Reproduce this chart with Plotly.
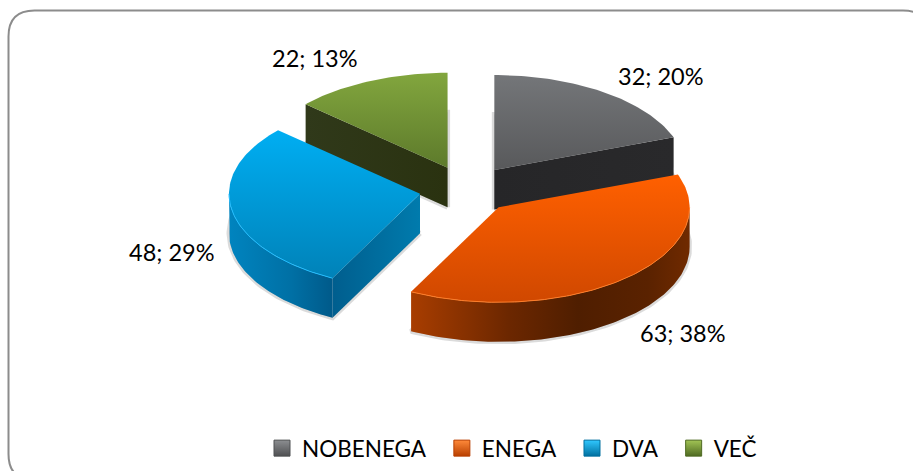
import math
import plotly.graph_objects as go

CATEGORIES = ["NOBENEGA", "ENEGA", "DVA", "VEČ"]
VALUES = [32, 63, 48, 22]
PERCENTS = [20, 38, 29, 13]

TOP_COLORS = [("#747679", "#58595b"), ("#ff6000", "#d04800"), ("#00aef2", "#0082b8"), ("#82a63e", "#5d7a2b")]
RIM_SCALES = [None,
              [[0, "#a83d00"], [0.35, "#6c2700"], [0.6, "#4f1e00"], [0.85, "#5a2200"], [1, "#702a00"]],
              [[0, "#0084bf"], [0.6, "#0070a5"], [1, "#005a8a"]],
              None]
WALL_SCALES = [[[0, "#262628"], [1, "#29292b"]], None,
               [[0, "#005e8e"], [1, "#007bad"]],
               [[0, "#30391a"], [1, "#2a3210"]]]
WALL_EDGE = ["end", None, "start", "start"]
RIM_LINE = [None, "#ff7d28", "#22bdff", None]
LEGEND_COLORS = [("#8c8e91", "#4f5052"), ("#ff8a3a", "#b83f00"), ("#30c8ff", "#006f9f"), ("#a2c455", "#4f6a22")]
LABEL_CENTERS = [(660.5, 75.5), (683, 332.5), (172, 251.5), (315, 57.5)]

CX, CY, RX, RY, DEPTH, PULL = 467.0, 189.5, 191.0, 95.0, 39.5, 0.25
FONT = "Lato"
LABEL_SIZE = 23.5
LEGEND_SIZE = 22.5


def pt(c, a, dy=0.0):
    r = math.radians(a)
    return c[0] + RX * math.sin(r), c[1] - RY * math.cos(r) + dy


def arc(c, a0, a1, dy=0.0):
    n = max(2, int(abs(a1 - a0)) + 1)
    return [pt(c, a0 + (a1 - a0) * i / (n - 1), dy) for i in range(n)]


def add_poly(fig, poly, name, gradient=None, kind="vertical", line=None, fillcolor=None):
    xs = [p[0] for p in poly] + [poly[0][0]]
    ys = [p[1] for p in poly] + [poly[0][1]]
    kw = dict(x=xs, y=ys, mode="lines", fill="toself", name=name, showlegend=False, hoverinfo="skip")
    kw["line"] = line or dict(width=0, color="rgba(0,0,0,0)")
    if gradient:
        kw["fillgradient"] = dict(type=kind, colorscale=gradient)
    else:
        kw["fillcolor"] = fillcolor
    fig.add_trace(go.Scatter(**kw))


total = sum(VALUES)
slices = []
start = 0.0
for v in VALUES:
    sweep = 360.0 * v / total
    slices.append((start, start + sweep))
    start += sweep

fig = go.Figure()

for i in [0, 3, 2, 1]:
    a0, a1 = slices[i]
    mid = math.radians((a0 + a1) / 2)
    c = (CX + PULL * RX * math.sin(mid), CY - PULL * RY * math.cos(mid))
    name = CATEGORIES[i]
    # soft shadow around the base of the extruded slice
    base = [(c[0], c[1] + DEPTH)] + arc(c, a0, a1, DEPTH)
    add_poly(fig, base, name + " shadow", line=dict(width=5, color="rgba(90,90,90,0.22)"), fillcolor="rgba(90,90,90,0.22)")
    # flat cut wall
    if WALL_EDGE[i]:
        a = a1 if WALL_EDGE[i] == "end" else a0
        rim = pt(c, a)
        wall = [c, rim, (rim[0], rim[1] + DEPTH), (c[0], c[1] + DEPTH)]
        add_poly(fig, wall, name + " wall", WALL_SCALES[i], "horizontal")
    # outer rim
    r0, r1 = max(a0, 90), min(a1, 270)
    if r1 > r0 and RIM_SCALES[i]:
        rim_poly = arc(c, r0, r1) + arc(c, r1, r0, DEPTH)
        add_poly(fig, rim_poly, name + " rim", RIM_SCALES[i], "horizontal")
    # top face
    top = [c] + arc(c, a0, a1)
    add_poly(fig, top, name + " top", [[0, TOP_COLORS[i][1]], [1, TOP_COLORS[i][0]]], "vertical")
    if RIM_LINE[i]:
        edge = arc(c, r0, r1)
        fig.add_trace(go.Scatter(x=[p[0] for p in edge], y=[p[1] for p in edge], mode="lines",
                                 line=dict(width=1, color=RIM_LINE[i]), showlegend=False, hoverinfo="skip"))

for i, cat in enumerate(CATEGORIES):
    fig.add_trace(go.Scatter(
        x=[None], y=[None], mode="markers", name=cat + "\u00a0\u00a0", hoverinfo="skip",
        marker=dict(symbol="square", size=16, color=LEGEND_COLORS[i][0],
                    gradient=dict(type="vertical", color=LEGEND_COLORS[i][1]),
                    line=dict(width=1, color=LEGEND_COLORS[i][1])),
    ))

annotations = [
    dict(x=LABEL_CENTERS[i][0], y=LABEL_CENTERS[i][1], xref="x", yref="y", showarrow=False,
         text=f"{VALUES[i]}; {PERCENTS[i]}%", font=dict(family=FONT, size=LABEL_SIZE, color="#000000"))
    for i in range(4)
]

L, T, R, B, RAD = 8.5, 10.5, 929, 480, 26
frame = (f"M {L} {T+RAD} Q {L} {T} {L+RAD} {T} L {R-RAD} {T} Q {R} {T} {R} {T+RAD} "
         f"L {R} {B-RAD} Q {R} {B} {R-RAD} {B} L {L+RAD} {B} Q {L} {B} {L} {B-RAD} Z")

fig.update_layout(
    width=913, height=471, margin=dict(l=0, r=0, t=0, b=0),
    paper_bgcolor="#ffffff", plot_bgcolor="#ffffff",
    xaxis=dict(range=[0, 913], visible=False, fixedrange=True),
    yaxis=dict(range=[471, 0], visible=False, fixedrange=True),
    shapes=[dict(type="path", xref="x", yref="y", path=frame, line=dict(color="#8c8c8c", width=2), layer="below")],
    annotations=annotations,
    showlegend=True,
    legend=dict(orientation="h", x=262 / 913, xanchor="left", y=1 - 427 / 471, yanchor="top",
                font=dict(family=FONT, size=LEGEND_SIZE, color="#000000"), bgcolor="rgba(0,0,0,0)",
                traceorder="normal"),
)

fig.write_html("out.html", post_script="document.body.style.margin='0';", config={"displayModeBar": False})
